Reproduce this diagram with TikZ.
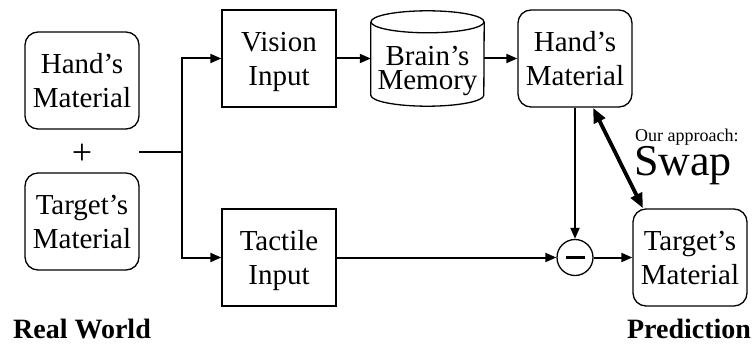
\documentclass[tikz,border=0pt]{standalone}
\usepackage{fontspec}
\setmainfont{Liberation Serif}
\usetikzlibrary{arrows.meta}
\begin{document}
\begin{tikzpicture}[x=1pt, y=-1pt,
  box/.style={draw, line width=1.3pt, minimum width=114pt, minimum height=97pt,
    inner sep=0pt, align=center, font=\fontsize{29}{34}\selectfont, text depth=0pt},
  rbox/.style={box, rounded corners=13pt},
  conn/.style={line width=2pt, -{Triangle[length=11pt,width=9pt]}},
  swaparrow/.style={line width=3.8pt, {Triangle[length=15pt,width=12pt]}-{Triangle[length=15pt,width=12pt]}},
  caption/.style={anchor=base, inner sep=0pt, font=\bfseries\fontsize{28}{28}\selectfont}]

\useasboundingbox (0,0) rectangle (753,345);

% real world inputs
\node[rbox] (hl) at (82,80.5) {Hand’s\\Material};
\node[rbox] (tl) at (82,221.5) {Target’s\\Material};
\node[inner sep=0pt, font=\fontsize{36}{36}\selectfont] (plus) at (82,154) {+};

% sensing
\node[box] (vis) at (279,58.5) {Vision\\Input};
\node[box] (tac) at (279,257.5) {Tactile\\Input};

% memory cylinder: an outline around an empty placeholder node
\node[minimum width=113pt, minimum height=95pt, inner sep=0pt] (mem) at (427.5,58.5) {};
\draw[line width=1.3pt]
  ([yshift=-11pt]mem.north west) -- ([yshift=11pt]mem.south west)
  arc[start angle=180, end angle=360, x radius=56.5pt, y radius=11pt]
  -- ([yshift=-11pt]mem.north east);
\draw[line width=1.3pt] ([yshift=-11pt]mem.north) ellipse[x radius=56.5pt, y radius=11pt];
\node[inner sep=0pt, align=center, font=\fontsize{29}{24}\selectfont] (memtext) at (427.5,71) {Brain’s\\Memory};

% prediction side
\node[rbox] (hr) at (575,58.5) {Hand’s\\Material};
\node[rbox] (tr) at (690,257.5) {Target’s\\Material};
\node[draw, circle, line width=1.3pt, minimum size=36pt, inner sep=0pt] (sub) at (575,257.5) {\rule{19pt}{3.8pt}};

% connectors
\coordinate (src) at (139,152);
\coordinate (fork) at (182,152);
\draw[line width=2.4pt] (src) -- (fork);
\draw[conn] (fork) |- (vis.west);
\draw[conn] (fork) |- (tac.west);
\draw[conn] (vis) -- (mem);
\draw[conn] (mem) -- (hr);
\draw[conn] (hr) -- (sub);
\draw[conn] (tac) -- (sub);
\draw[conn] (sub) -- (tr);
\draw[swaparrow] ([xshift=18pt]hr.south) -- ([xshift=-47pt]tr.north);

% swap annotation
\node[anchor=base west, inner sep=0pt, font=\fontsize{18}{18}\selectfont] (appr) at (635,141) {Our approach:};
\node[anchor=base west, inner sep=0pt, font=\fontsize{44}{44}\selectfont] (swap) at (634,175) {Swap};

% captions
\node[caption] (rw) at (82,338) {Real World};
\node[caption] (pred) at (689,338) {Prediction};
\end{tikzpicture}
\end{document}
